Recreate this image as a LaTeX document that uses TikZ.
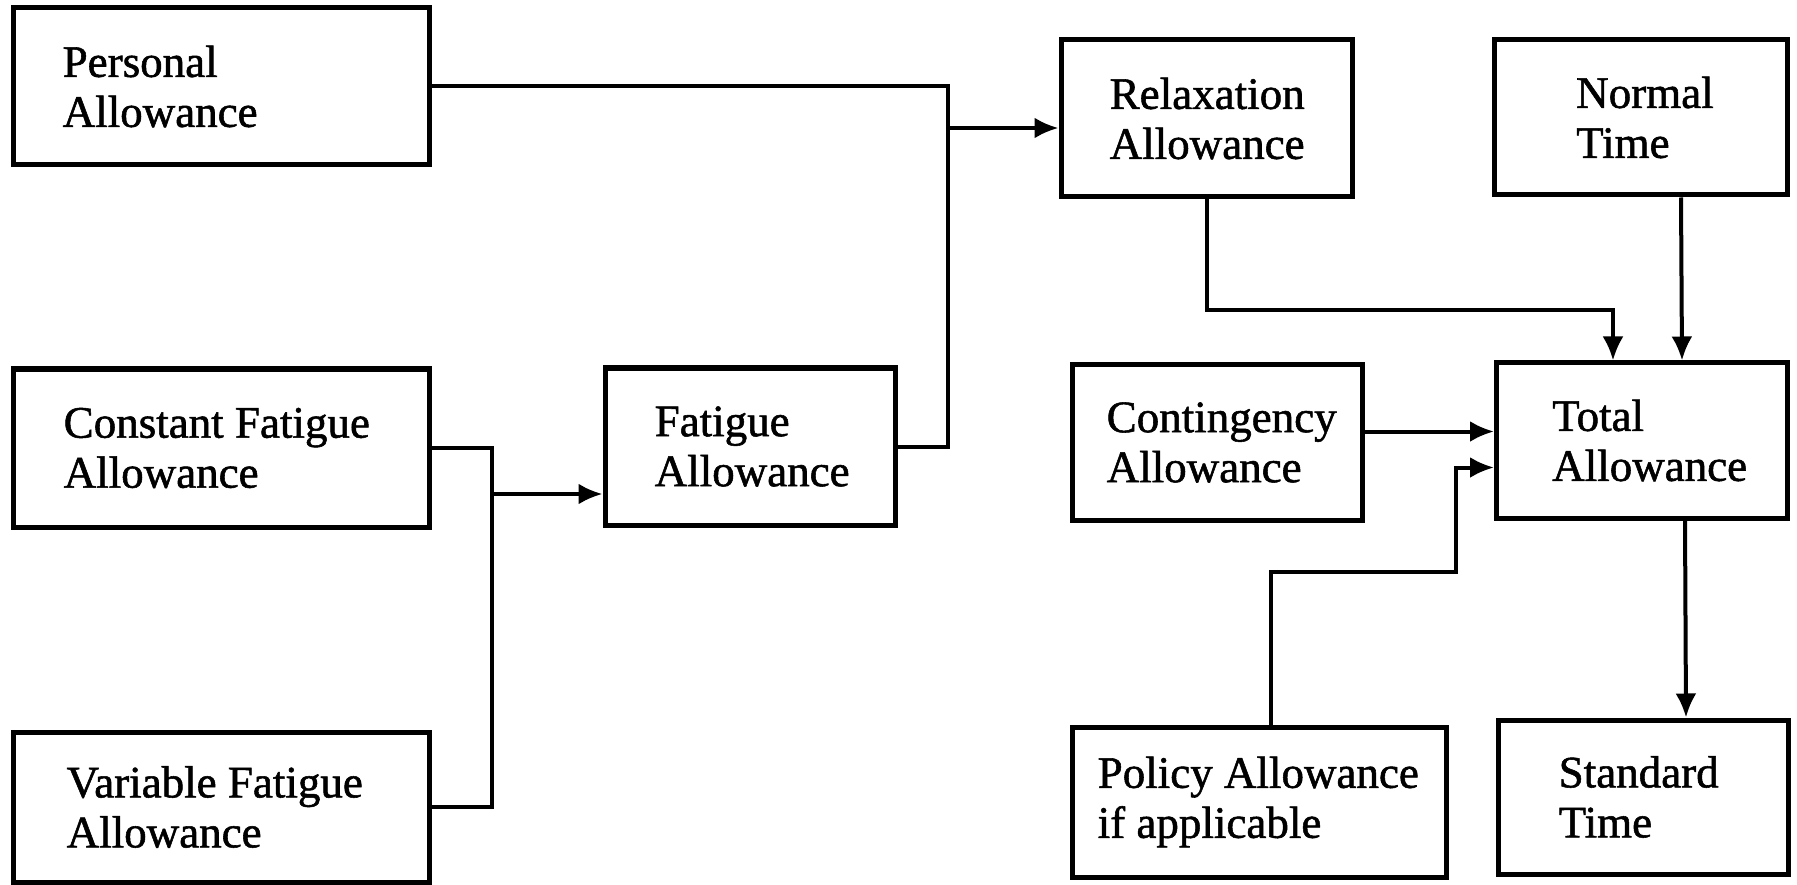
\documentclass[tikz,border=0pt]{standalone}
\usepackage{fontspec}
\setmainfont{Liberation Serif}[FakeBold=1.2]
\usetikzlibrary{arrows.meta, positioning}

\tikzset{
  box/.style={draw, line width=5pt, inner sep=0pt},
  txt/.style={align=left, inner sep=0pt, font=\fontsize{45}{50}\selectfont},
  link/.style={line width=4pt},
  arr/.style={line width=4pt, -{Latex[length=24pt,width=21pt]}},
}

\begin{document}
\begin{tikzpicture}[x=1pt, y=-1pt]
  \useasboundingbox (0,0) rectangle (1797,885);

  % Left column
  \node[box, minimum width=416pt, minimum height=157pt] (pers) at (221,86.5) {};
  \node[box, minimum width=416pt, minimum height=158pt] (const) at (221,448) {};
  \node[box, minimum width=416pt, minimum height=150pt] (var) at (221,807) {};
  \node[box, minimum width=290pt, minimum height=157pt] (fatig) at (750,446.5) {};

  % Right part
  \node[box, minimum width=291pt, minimum height=157pt] (relax) at (1206.5,118.5) {};
  \node[box, minimum width=293pt, minimum height=155pt] (normal) at (1641,117.5) {};
  \node[box, minimum width=290pt, minimum height=155pt] (conting) at (1217,442.5) {};
  \node[box, minimum width=291pt, minimum height=155pt] (total) at (1642,440.5) {};
  \node[box, minimum width=374pt, minimum height=150pt] (policy) at (1259,802) {};
  \node[box, minimum width=290pt, minimum height=154pt] (std) at (1643,797) {};

  % Texts
  \node[txt, right=52pt of pers.west] (perst) {Personal\\Allowance};
  \node[txt, right=53pt of const.west] (constt) {Constant Fatigue\\Allowance};
  \node[txt, right=56pt of var.west] (vart) {Variable Fatigue\\Allowance};
  \node[txt, right=52pt of fatig.west] (fatigt) {Fatigue\\Allowance};
  \node[txt, right=51pt of relax.west] (relaxt) {Relaxation\\Allowance};
  \node[txt, right=84pt of normal.west] (normalt) {Normal\\Time};
  \node[txt, right=37pt of conting.west] (contingt) {Contingency\\Allowance};
  \node[txt, right=58pt of total.west] (totalt) {Total\\Allowance};
  \node[txt, right=28pt of policy.west] (policyt) {Policy Allowance\\if applicable};
  \node[txt, right=63pt of std.west] (stdt) {Standard\\Time};

  % Personal and fatigue into relaxation
  \coordinate (jf) at (948,128);
  \draw[link] (pers.east) -| (jf |- fatig.east) -- (fatig.east);
  \draw[arr] (jf) -- (jf -| relax.west);

  % Constant and variable into fatigue
  \coordinate (jc) at (492,494);
  \draw[link] (const.east) -| (jc |- var.east) -- (var.east);
  \draw[arr] (jc) -- (jc -| fatig.west);

  % Into total allowance
  \coordinate (jr) at (1613,310);
  \draw[arr] (relax.south) |- (jr) -- (jr |- total.north);
  \draw[arr] ([xshift=40pt]normal.south) -- ([xshift=40pt]total.north);
  \coordinate (jk) at ([yshift=11pt]conting.east);
  \draw[arr] (jk) -- (jk -| total.west);
  \coordinate (jp) at (1456,572);
  \draw[arr] ([xshift=12pt]policy.north) |- (jp) |- ([yshift=-27pt]total.west);

  % Standard time
  \draw[arr] ([xshift=43pt]total.south) -- ([xshift=43pt]std.north);
\end{tikzpicture}
\end{document}
